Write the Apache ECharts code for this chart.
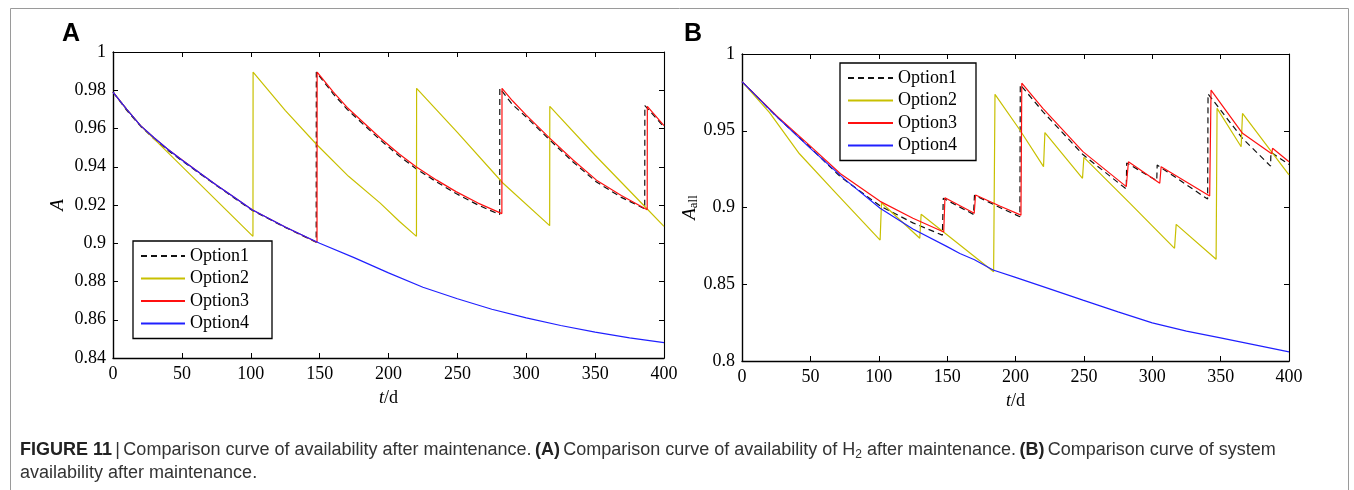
<!DOCTYPE html>
<html>
<head>
<meta charset="utf-8">
<script src="https://cdn.jsdelivr.net/npm/echarts@6/dist/echarts.min.js"></script>
<style>
html,body{margin:0;padding:0;background:#fff;}
#c{width:1354px;height:490px;}
</style>
</head>
<body>
<div id="c"></div>
<script>
// ---------- DATA ----------
const seriesNames = ['Option1', 'Option2', 'Option3', 'Option4'];
const xTicks = [0, 50, 100, 150, 200, 250, 300, 350, 400];
const yTicksA = [0.84, 0.86, 0.88, 0.9, 0.92, 0.94, 0.96, 0.98, 1];
const yTicksB = [0.8, 0.85, 0.9, 0.95, 1];

// Panel A : availability of H2  [t (d), A]
const A_option1 = [[0,0.979],[10,0.9695],[20,0.9612],[30,0.9545],[40,0.9485],[50,0.9432],[63,0.9364],[75,0.9302],[88,0.9237],[101,0.9172],[125,0.9083],[147.5,0.9005],[147.6,0.9895],[160,0.978],[170,0.970],[182,0.962],[194,0.954],[208,0.9455],[220,0.939],[235,0.932],[249,0.926],[265,0.920],[280.7,0.915],[280.8,0.981],[290,0.9725],[300,0.966],[317,0.954],[334,0.9425],[351,0.932],[369,0.924],[386,0.918],[386.1,0.972],[400,0.9608]];
const A_option2 = [[0,0.979],[10,0.970],[20,0.9615],[101.6,0.9036],[101.7,0.9895],[125,0.9695],[148,0.9515],[171,0.935],[194,0.921],[208,0.9114],[220.3,0.9036],[220.4,0.981],[250,0.958],[283,0.9315],[317,0.9092],[317.1,0.9716],[350,0.946],[385,0.920],[400,0.9088]];
const A_option3 = [[0,0.979],[10,0.970],[20,0.9615],[30,0.955],[40,0.949],[50,0.9437],[63,0.9367],[75,0.9305],[88,0.924],[101,0.9175],[125,0.9085],[148.1,0.9005],[148.2,0.9895],[160,0.979],[170,0.971],[182,0.963],[194,0.955],[208,0.9465],[220,0.940],[235,0.933],[249,0.927],[265,0.921],[282.3,0.9155],[282.4,0.981],[290,0.9745],[300,0.967],[317,0.955],[334,0.9435],[351,0.933],[369,0.925],[387.8,0.9175],[387.9,0.9716],[400,0.9615]];
const A_option4 = [[0,0.979],[10,0.970],[20,0.9615],[30,0.955],[40,0.949],[50,0.9435],[63,0.9367],[75,0.9305],[88,0.924],[101,0.9175],[125,0.9085],[150,0.900],[175,0.8925],[200,0.8845],[225,0.877],[250,0.871],[275,0.8655],[300,0.861],[325,0.857],[350,0.8535],[375,0.8505],[400,0.848]];

// Panel B : system availability  [t (d), A_all]
const B_option1 = [[0,0.982],[25,0.9595],[50,0.939],[72,0.920],[101,0.901],[125,0.890],[146.5,0.882],[147.2,0.906],[169.3,0.8955],[170,0.908],[188.5,0.900],[203.2,0.894],[203.5,0.980],[220,0.9625],[249.3,0.9345],[281,0.912],[281.3,0.929],[303.3,0.9175],[303.6,0.9277],[340.5,0.9055],[340.8,0.974],[366,0.945],[386.5,0.927],[386.8,0.936],[400,0.928]];
const B_option2 = [[0,0.982],[20,0.962],[42,0.935],[67,0.911],[101,0.8788],[102,0.9031],[130,0.880],[131,0.8956],[184,0.8582],[185,0.9737],[203.2,0.9505],[220.5,0.9266],[221.5,0.9488],[249,0.919],[250,0.9327],[283.4,0.903],[316.3,0.8734],[317.5,0.889],[346.7,0.8663],[347.4,0.9646],[365,0.9396],[366,0.9613],[400,0.9212]];
const B_option3 = [[0,0.982],[25,0.960],[50,0.940],[72,0.922],[101,0.904],[125,0.893],[147.5,0.884],[148.4,0.9064],[169.8,0.8962],[170.8,0.9081],[188.5,0.901],[204,0.895],[204.6,0.981],[220,0.9646],[249.3,0.9364],[281,0.9136],[282.6,0.9298],[305.5,0.9158],[306.5,0.9266],[342,0.9075],[343,0.9765],[366,0.9483],[387.3,0.935],[388,0.9386],[400,0.9298]];
const B_option4 = [[0,0.982],[25,0.9595],[50,0.9385],[75,0.9185],[101,0.8995],[125,0.886],[150,0.8745],[159.3,0.870],[170,0.866],[183.6,0.8593],[200,0.8545],[225,0.847],[249.3,0.8397],[275,0.832],[300,0.8248],[325,0.8195],[349,0.8152],[375,0.8105],[400,0.806]];

// ---------- STYLE ----------
const serif = 'Liberation Serif';
const colors = {Option1:'#111111', Option2:'#c8c000', Option3:'#ff1010', Option4:'#2020ff'};
const dashed = {Option1:[6,4]};

const chart = echarts.init(document.getElementById('c'), null, {renderer:'canvas'});

function fmt(v){ return String(+(+v).toFixed(2)); }

function axesFor(gi, min, max, interval, yName, yNameRich, xNameGap, yNameGap){
  const common = {min:min, max:max, interval:interval};
  const lineStyle = {color:'#000', width:1.4};
  return {
    x: [
      {type:'value', gridIndex:gi, position:'bottom', min:0, max:400, interval:50,
       axisLine:{show:true, onZero:false, lineStyle:lineStyle},
       axisTick:{show:true, inside:true, length:5, lineStyle:{color:'#000', width:1}},
       axisLabel:{show:true, margin:7, color:'#000', fontFamily:serif, fontSize:18},
       splitLine:{show:false},
       name:'{i|t}{n|/d}', nameLocation:'middle', nameGap:xNameGap,
       nameTextStyle:{rich:{i:{fontStyle:'italic', fontFamily:serif, fontSize:18, color:'#000'}, n:{fontFamily:serif, fontSize:18, color:'#000'}}}},
      {type:'value', gridIndex:gi, position:'top', min:0, max:400, interval:50,
       axisLine:{show:true, onZero:false, lineStyle:{color:'#000', width:1.1}},
       axisTick:{show:true, inside:true, length:5, lineStyle:{color:'#000', width:1}},
       axisLabel:{show:false}, splitLine:{show:false}}
    ],
    y: [
      Object.assign({type:'value', gridIndex:gi, position:'left',
       axisLine:{show:true, onZero:false, lineStyle:lineStyle},
       axisTick:{show:true, inside:true, length:5, lineStyle:{color:'#000', width:1}},
       axisLabel:{show:true, margin:7, color:'#000', fontFamily:serif, fontSize:18, formatter:fmt},
       splitLine:{show:false},
       name:yName, nameLocation:'middle', nameGap:yNameGap, nameRotate:90,
       nameTextStyle:{rich:yNameRich}}, common),
      Object.assign({type:'value', gridIndex:gi, position:'right',
       axisLine:{show:true, onZero:false, lineStyle:{color:'#000', width:1.1}},
       axisTick:{show:true, inside:true, length:5, lineStyle:{color:'#000', width:1}},
       axisLabel:{show:false}, splitLine:{show:false}}, common)
    ]
  };
}

const axA = axesFor(0, 0.84, 1, 0.02, '{i|A}',
  {i:{fontStyle:'italic', fontFamily:serif, fontSize:19, color:'#000'}}, 31, 46);
const axB = axesFor(1, 0.8, 1, 0.05, '{i|A}{s|all}',
  {i:{fontStyle:'italic', fontFamily:serif, fontSize:19, color:'#000'},
   s:{fontFamily:serif, fontSize:13, color:'#000', verticalAlign:'bottom', padding:[6,0,0,0]}}, 31, 40);

function mk(name, data, xi, yi){
  return {
    name:name, type:'line', data:data, xAxisIndex:xi, yAxisIndex:yi,
    symbol:'none', showSymbol:false, smooth:false, animation:false,
    lineStyle:{color:colors[name], width:1.2, type: dashed[name] || 'solid'},
    itemStyle:{color:colors[name]},
    emphasis:{disabled:true}
  };
}

const dataA = {Option1:A_option1, Option2:A_option2, Option3:A_option3, Option4:A_option4};
const dataB = {Option1:B_option1, Option2:B_option2, Option3:B_option3, Option4:B_option4};

const series = [];
seriesNames.forEach(n => series.push(mk(n, dataA[n], 0, 0)));
seriesNames.forEach(n => series.push(mk(n, dataB[n], 2, 2)));

const legendCommon = {
  orient:'vertical', data:seriesNames, backgroundColor:'#fff',
  borderColor:'#000', borderWidth:1.3, borderRadius:0,
  itemHeight:14, itemGap:4.5, selectedMode:false,
  itemStyle:{opacity:0, borderWidth:0},
  textStyle:{fontFamily:serif, fontSize:18, color:'#000'}
};

const capFont = '"Liberation Sans"';
const option = {
  animation:false,
  backgroundColor:'#ffffff',
  grid:[
    {left:113, top:52, width:551, height:306, containLabel:false},
    {left:742, top:54, width:547, height:307, containLabel:false}
  ],
  xAxis:[axA.x[0], axA.x[1], axB.x[0], axB.x[1]],
  yAxis:[axA.y[0], axA.y[1], axB.y[0], axB.y[1]],
  legend:[
    Object.assign({left:133, top:241, padding:[6,23,6,7], itemWidth:44}, legendCommon),
    Object.assign({left:840, top:63, padding:[6,19,6,7], itemWidth:45}, legendCommon)
  ],
  series:series,
  graphic:[
    {type:'rect', left:8, top:6, shape:{x:0,y:0,width:1338,height:500}, style:{fill:'none', stroke:'#9a9a9a', lineWidth:1}, silent:true, z:-10},
    {type:'text', left:62, top:22, style:{text:'A', font:'bold 25px "Liberation Sans"', fill:'#000'}},
    {type:'text', left:684, top:22, style:{text:'B', font:'bold 25px "Liberation Sans"', fill:'#000'}},
    {type:'text', left:20, top:441, style:{
      text:'{b|FIGURE 11} {t||} {t|Comparison curve of availability after maintenance.} {b|(A)} {t|Comparison curve of availability of H}{s|2}{t| after maintenance.} {b|(B)} {t|Comparison curve of system}',
      rich:{
        b:{font:'bold 18px ' + capFont, fill:'#222'},
        t:{font:'18px ' + capFont, fill:'#333'},
        s:{font:'12px ' + capFont, fill:'#333', verticalAlign:'bottom', padding:[9,0,0,0]}
      }}},
    {type:'text', left:20, top:464, style:{text:'availability after maintenance.', font:'18px ' + capFont, fill:'#333'}}
  ]
};
chart.setOption(option);
</script>
</body>
</html>
